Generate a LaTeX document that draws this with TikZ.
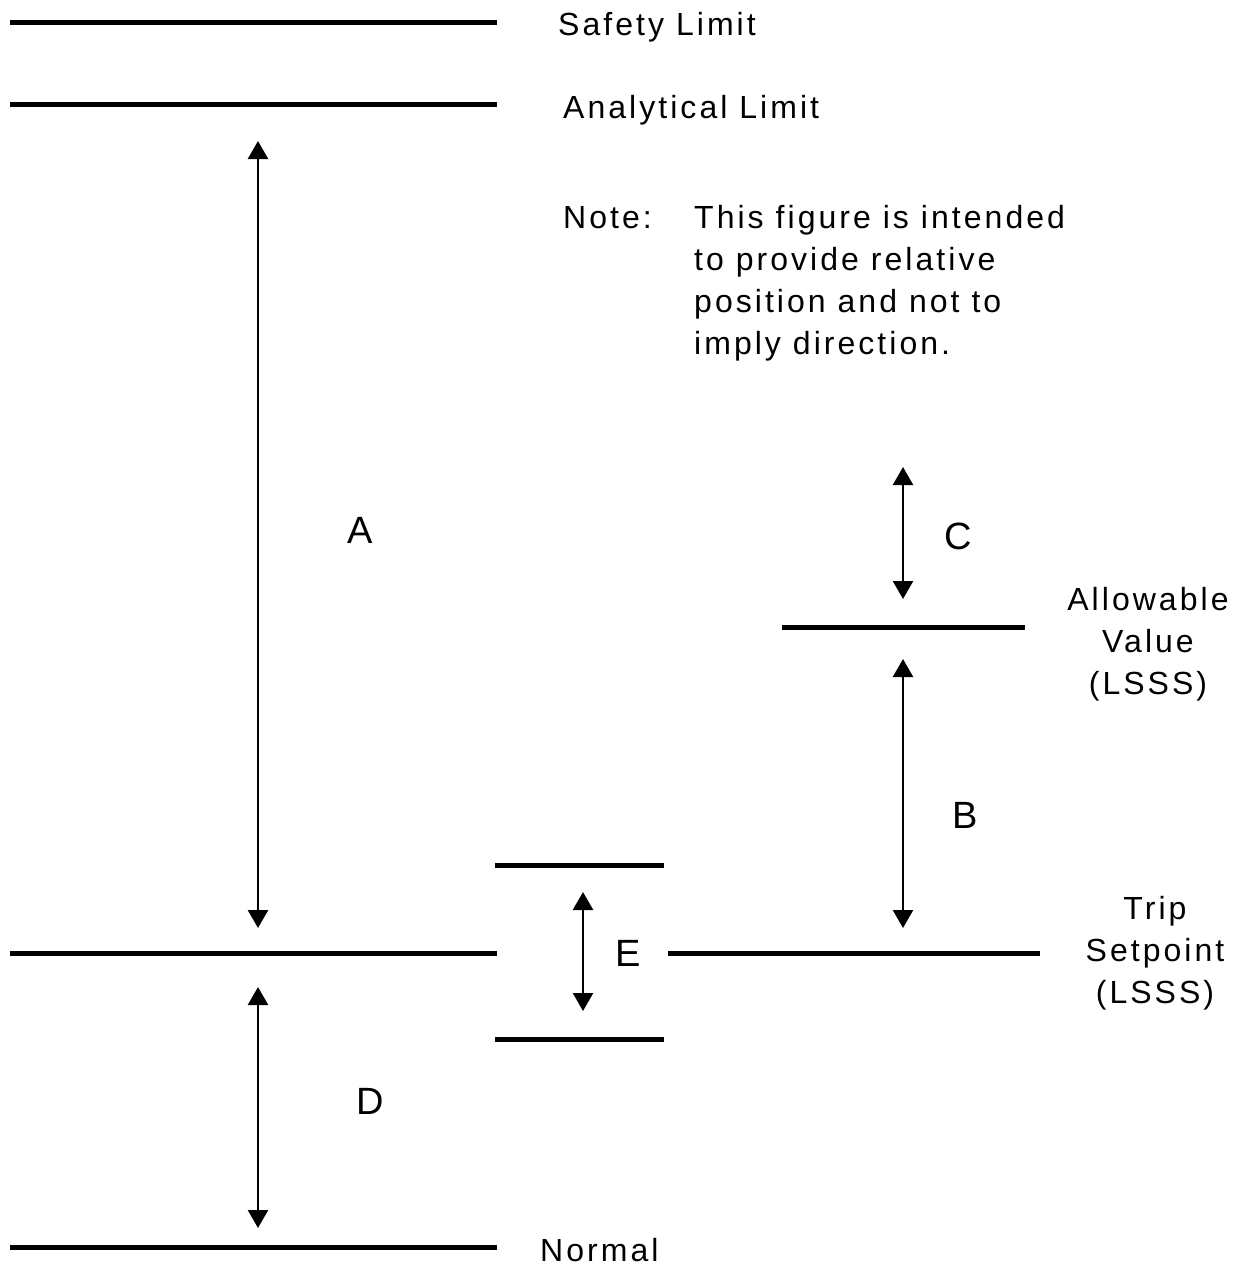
\documentclass[tikz,border=0pt]{standalone}
\usepackage{fontspec}
\setmainfont[LetterSpace=9.5]{Liberation Sans}
\usetikzlibrary{arrows.meta}
\begin{document}
\begin{tikzpicture}[x=1pt,y=-1pt,
  level/.style={line width=5pt},
  dim/.style={line width=2.5pt,{Triangle[width=20pt,length=18pt]}-{Triangle[width=20pt,length=18pt]}},
  lbl/.style={inner sep=0pt,font=\fontsize{32}{42}\selectfont},
  big/.style={inner sep=0pt,font=\fontsize{38}{42}\selectfont},
  ]
\useasboundingbox (0,0) rectangle (1239,1267);
% level lines
\coordinate (s1) at (10,22);   \coordinate (s2) at (497,22);
\coordinate (a1) at (10,104);  \coordinate (a2) at (497,104);
\coordinate (t1) at (10,953);  \coordinate (t2) at (497,953);
\coordinate (t3) at (668,953); \coordinate (t4) at (1040,953);
\coordinate (n1) at (10,1247); \coordinate (n2) at (497,1247);
\coordinate (e1) at (495,865); \coordinate (e2) at (664,865);
\coordinate (e3) at (495,1039);\coordinate (e4) at (664,1039);
\coordinate (v1) at (782,627); \coordinate (v2) at (1025,627);
\draw[level] (s1) -- (s2);
\draw[level] (a1) -- (a2);
\draw[level] (t1) -- (t2);
\draw[level] (t3) -- (t4);
\draw[level] (n1) -- (n2);
\draw[level] (e1) -- (e2);
\draw[level] (e3) -- (e4);
\draw[level] (v1) -- (v2);
% dimension arrows
\coordinate (A1) at (258,141); \coordinate (A2) at (258,928);
\coordinate (D1) at (258,987); \coordinate (D2) at (258,1228);
\coordinate (E1) at (583,892); \coordinate (E2) at (583,1011);
\coordinate (C1) at (903,467); \coordinate (C2) at (903,599);
\coordinate (B1) at (903,659); \coordinate (B2) at (903,928);
\draw[dim] (A1) -- (A2);
\draw[dim] (D1) -- (D2);
\draw[dim] (E1) -- (E2);
\draw[dim] (C1) -- (C2);
\draw[dim] (B1) -- (B2);
% labels
\node[lbl,anchor=base west] (sl) at (558,35) {Safety Limit};
\node[lbl,anchor=base west] (al) at (563,118) {Analytical Limit};
\node[lbl,anchor=base west] (note) at (563,228) {Note:};
\node[lbl,anchor=base west,align=left] (notetext) at (694,354) {This figure is intended\\to provide relative\\position and not to\\imply direction.};
\node[big,anchor=base] (lA) at (360,543) {A};
\node[big,anchor=base] (lC) at (958,549) {C};
\node[big,anchor=base] (lB) at (965,828) {B};
\node[big,anchor=base] (lD) at (370,1114) {D};
\node[big,anchor=base] (lE) at (628,966) {E};
\node[lbl,anchor=base,align=center] (av) at (1148,694) {Allowable\\Value\\(LSSS)};
\node[lbl,anchor=base,align=center] (ts) at (1155,1003) {Trip\\Setpoint\\(LSSS)};
\node[lbl,anchor=base west] (nm) at (540,1261) {Normal};
\end{tikzpicture}
\end{document}
